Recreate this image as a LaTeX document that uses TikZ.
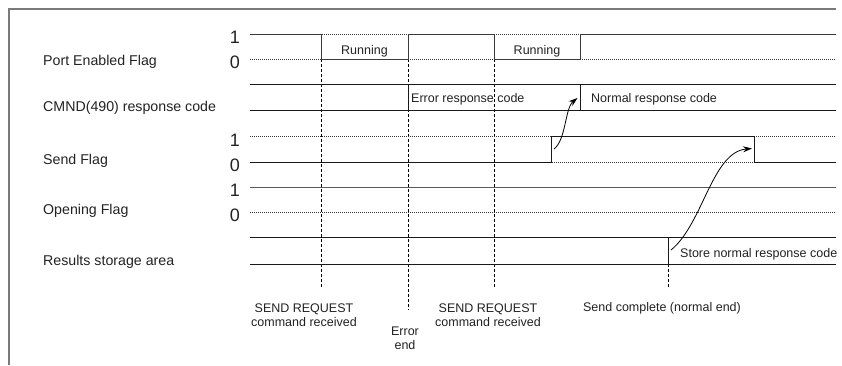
\documentclass[tikz,border=0pt]{standalone}
\usepackage{fontspec}
\setmainfont{Liberation Sans}
\usetikzlibrary{arrows.meta}
\definecolor{ink}{HTML}{222222}
\definecolor{sigc}{HTML}{3A3A3A}
\definecolor{framec}{HTML}{7A7A7A}
\tikzset{
  sig/.style={line width=0.9pt, draw=sigc},
  sigsolid/.style={line width=0.9pt, draw=black!90},
  dotl/.style={line width=0.7pt, dash pattern=on 0.9pt off 1.1pt, draw=black!80},
  vdash/.style={line width=0.7pt, dash pattern=on 2.5pt off 2.5pt, draw=black},
  lab/.style={font=\fontsize{14.2}{16}\selectfont, anchor=west, inner sep=0pt, text=ink},
  digit/.style={font=\fontsize{18}{20}\selectfont, inner sep=0pt, text=ink},
  small/.style={font=\fontsize{12.5}{13.5}\selectfont, inner sep=0pt, text=ink, align=center},
  arr/.style={-{Stealth[length=9pt,width=6pt]}, line width=0.8pt, draw=black},
}
\begin{document}
\begin{tikzpicture}[x=1pt,y=-1pt]
\useasboundingbox (0,0) rectangle (842,365);
% frame
\draw[framec, line width=1.2pt] (9,365) -- (9,9) -- (836,9);

% left labels
\node[lab] (lport) at (43,62) {Port Enabled Flag};
\node[lab] (lcmnd) at (43,108) {CMND(490) response code};
\node[lab] (lsend) at (43,161) {Send Flag};
\node[lab] (lopen) at (43,211) {Opening Flag};
\node[lab] (lres) at (43,262) {Results storage area};

% digits
\node[digit] (p1) at (235,37.5) {1};
\node[digit] (p0) at (235,62.5) {0};
\node[digit] (s1) at (235,140) {1};
\node[digit] (s0) at (235,165.5) {0};
\node[digit] (o1) at (235,190) {1};
\node[digit] (o0) at (235,215.5) {0};

% dashed verticals
\draw[vdash] (321,59) -- (321,288);
\draw[vdash] (408,59) -- (408,310);
\draw[vdash] (494,59) -- (494,288);
\draw[vdash] (668,264) -- (668,288);

% Port Enabled Flag
\draw[dotl] (250,34) -- (836,34);
\draw[dotl] (250,59) -- (836,59);
\draw[sig] (250,34) -- (321,34) -- (321,59) -- (408,59) -- (408,34) -- (494,34)
  -- (494,59) -- (580,59) -- (580,34) -- (836,34);
\node[small] (run1) at (364.5,51) {Running};
\node[small] (run2) at (537,51) {Running};

% CMND response code
\draw[sigsolid] (250,84) -- (836,84);
\draw[sigsolid] (250,110) -- (836,110);
\draw[sigsolid] (408,84) -- (408,110);
\draw[sigsolid] (580,84) -- (580,110);
\node[small, anchor=west] (err) at (411,99) {Error response code};
\node[small, anchor=west] (norm) at (591,99) {Normal response code};

% Send Flag
\draw[dotl] (250,136) -- (836,136);
\draw[dotl] (250,162) -- (836,162);
\draw[sigsolid] (250,162) -- (551,162) -- (551,136) -- (754,136) -- (754,162) -- (836,162);

% Opening Flag
\draw[dotl] (250,212) -- (836,212);
\draw[sig, draw=black!65] (250,187) -- (836,187);

% Results storage area
\draw[sigsolid] (250,237) -- (836,237);
\draw[sigsolid] (250,264) -- (836,264);
\draw[sigsolid] (668,237) -- (668,264);
\node[small, anchor=west] (store) at (680,254) {Store normal response code};

% arrows
\coordinate (a1s) at (554,149);
\coordinate (a1e) at (577.5,98);
\coordinate (a2s) at (671,250);
\coordinate (a2e) at (752,148.5);
\draw[arr] (a1s) .. controls (566,140) and (565,108) .. (a1e);
\draw[arr] (a2s) .. controls (703,224) and (712,152) .. (a2e);

% bottom labels
\node[small] (req1) at (304,315) {SEND REQUEST\\command received};
\node[small] (errend) at (405,338.5) {Error\\end};
\node[small] (req2) at (488,315) {SEND REQUEST\\command received};
\node[small] (done) at (662,308) {Send complete (normal end)};
\end{tikzpicture}
\end{document}
